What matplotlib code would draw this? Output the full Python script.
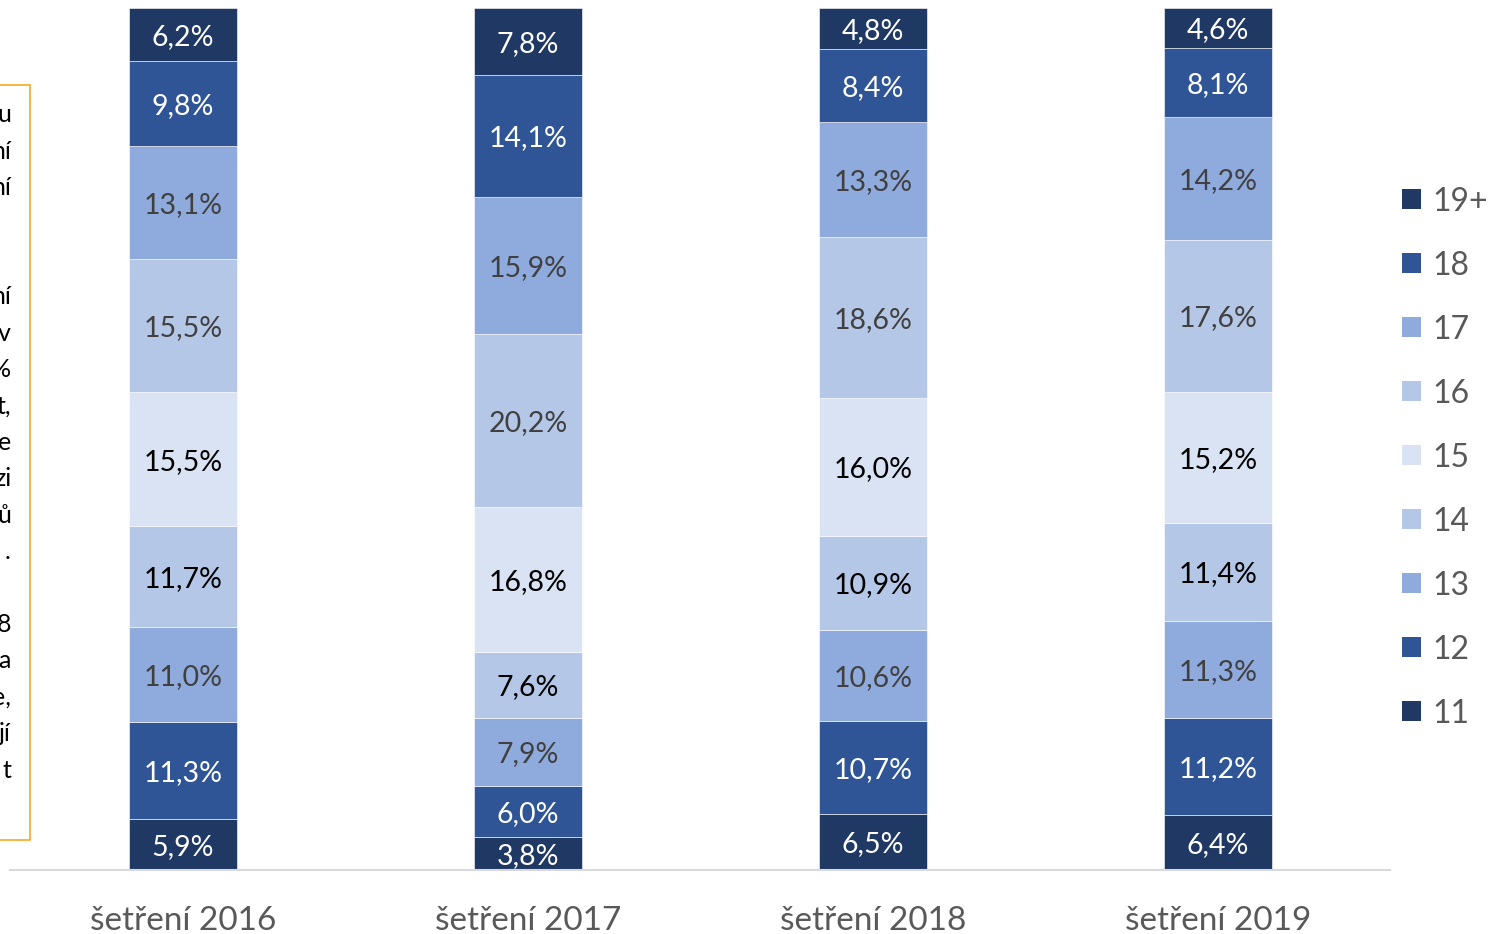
import matplotlib
matplotlib.use("Agg")
import matplotlib.pyplot as plt
from matplotlib.patches import Rectangle

categories = ["šetření 2016", "šetření 2017", "šetření 2018", "šetření 2019"]
groups = ["11", "12", "13", "14", "15", "16", "17", "18", "19+"]
values = {
    "11":  [5.9, 3.8, 6.5, 6.4],
    "12":  [11.3, 6.0, 10.7, 11.2],
    "13":  [11.0, 7.9, 10.6, 11.3],
    "14":  [11.7, 7.6, 10.9, 11.4],
    "15":  [15.5, 16.8, 16.0, 15.2],
    "16":  [15.5, 20.2, 18.6, 17.6],
    "17":  [13.1, 15.9, 13.3, 14.2],
    "18":  [9.8, 14.1, 8.4, 8.1],
    "19+": [6.2, 7.8, 4.8, 4.6],
}
side_fragments = ["u", "ní", "ní", "", "", "ní", "v", "%", "t,", "e", "zi", "ů", ".", "", "8", "a", "e,", "jí", "t"]

colors = {
    "11": "#203864", "12": "#2f5597", "13": "#8faadc", "14": "#b4c7e7",
    "15": "#dae3f3", "16": "#b4c7e7", "17": "#8faadc", "18": "#2f5597", "19+": "#203864",
}
label_colors = {
    "11": "white", "12": "white", "13": "#404040", "14": "black",
    "15": "black", "16": "#404040", "17": "#404040", "18": "white", "19+": "white",
}

plt.rcParams['font.family'] = ['Lato', 'DejaVu Sans']

W, H = 1491, 934
fig = plt.figure(figsize=(W / 100, H / 100), dpi=100)
ax = fig.add_axes([10 / W, 1 - 870 / H, 1380 / W, 862 / H])

x = list(range(len(categories)))
totals = [sum(values[g][i] for g in groups) for i in x]
bottoms = [0.0] * len(categories)
bw = 108 / 345
for g in groups:
    vals = values[g]
    heights = [v / t * 100 for v, t in zip(vals, totals)]
    ax.bar(x, heights, bw, bottom=bottoms, color=colors[g], label=g,
           edgecolor="white", linewidth=0.4)
    for i, v in enumerate(vals):
        ax.text(x[i], bottoms[i] + heights[i] / 2, f"{v:.1f}%".replace(".", ","),
                ha="center", va="center_baseline", fontsize=20.5,
                color=label_colors[g])
    bottoms = [b + h for b, h in zip(bottoms, heights)]

ax.set_xlim(-0.5014, 3.4986)
ax.set_ylim(0, 100)
for s in ["top", "right", "left"]:
    ax.spines[s].set_visible(False)
ax.spines["bottom"].set_color("#d9d9d9")
ax.spines["bottom"].set_linewidth(1.5)
ax.set_yticks([])
ax.set_xticks(x)
ax.set_xticklabels(categories, fontsize=24, color="#595959")
ax.tick_params(axis="x", length=0, pad=26)

# legend (drawn in figure pixel positions)
for k, g in enumerate(groups[::-1]):
    yc = 199 + 64 * k
    fig.patches.append(Rectangle((1402 / W, 1 - (yc + 10) / H), 19 / W, 20 / H,
                                 transform=fig.transFigure, facecolor=colors[g],
                                 edgecolor="none"))
    fig.text(1432 / W, 1 - yc / H, g, ha="left", va="center_baseline",
             fontsize=23, color="#595959")

# cut-off side text box
fig.patches.append(Rectangle((-20 / W, 1 - 840 / H), 50 / W, 755 / H,
                             transform=fig.transFigure, fill=False,
                             edgecolor="#f7a823", linewidth=1.2))
for k, t in enumerate(side_fragments):
    if t:
        fig.text(11 / W, 1 - (115 + 36.4 * k) / H, t, ha="right", va="center",
                 fontsize=18, color="black")

fig.savefig("out.png", dpi=100)
